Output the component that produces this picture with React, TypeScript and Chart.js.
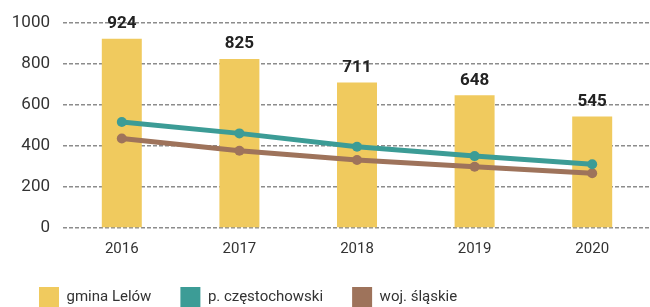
import React, { useEffect, useRef } from "react";
import { Chart, registerables } from "chart.js";

Chart.register(...registerables);

const years = ["2016", "2017", "2018", "2019", "2020"];
const gminaLelow = [924, 825, 711, 648, 545];
const powiatCzestochowski = [518, 462, 397, 351, 311];
const wojSlaskie = [437, 377, 332, 299, 267];
const yTicks = [0, 200, 400, 600, 800, 1000];

const YELLOW = "#F0CA5E";
const TEAL = "#3C9C96";
const BROWN = "#9E735B";

const barLabels = {
  id: "barLabels",
  afterDatasetsDraw(chart: any) {
    const ctx = chart.ctx;
    const meta = chart.getDatasetMeta(2);
    ctx.save();
    ctx.font = "bold 17px Roboto";
    ctx.fillStyle = "#222";
    ctx.textAlign = "center";
    ctx.textBaseline = "middle";
    meta.data.forEach((bar: any, i: number) => {
      ctx.fillText(String(gminaLelow[i]), bar.x, bar.y - 15);
    });
    ctx.restore();
  },
};

export default function App() {
  const ref = useRef<HTMLCanvasElement | null>(null);
  useEffect(() => {
    document.body.style.margin = "0";
    document.body.style.overflow = "hidden";
    const chart = new Chart(ref.current!, {
      type: "bar",
      data: {
        labels: years,
        datasets: [
          {
            type: "line",
            label: "p. częstochowski",
            data: powiatCzestochowski,
            borderColor: TEAL,
            backgroundColor: TEAL,
            borderWidth: 5,
            pointRadius: 5,
            pointBackgroundColor: TEAL,
            pointBorderWidth: 0,
            order: 1,
          } as any,
          {
            type: "line",
            label: "woj. śląskie",
            data: wojSlaskie,
            borderColor: BROWN,
            backgroundColor: BROWN,
            borderWidth: 5,
            pointRadius: 5,
            pointBackgroundColor: BROWN,
            pointBorderWidth: 0,
            order: 2,
          } as any,
          {
            type: "bar",
            label: "gmina Lelów",
            data: gminaLelow,
            backgroundColor: YELLOW,
            barPercentage: 0.34,
            categoryPercentage: 1,
            order: 3,
          },
        ],
      },
      options: {
        animation: false,
        responsive: false,
        layout: { padding: { left: 10, right: 2, top: 23, bottom: 0 } },
        scales: {
          x: {
            grid: { display: false, drawTicks: false },
            border: { display: false },
            ticks: { color: "#333", font: { family: "Roboto", size: 15 }, padding: 12 },
            afterFit: (axis: any) => {
              axis.height = 30;
            },
          },
          y: {
            min: 0,
            max: 1000,
            afterBuildTicks: (axis: any) => {
              axis.ticks = yTicks.map((v) => ({ value: v }));
            },
            afterFit: (axis: any) => {
              axis.width = 53;
            },
            grid: {
              color: "#8c8c8c",
              lineWidth: 1.6,
              drawTicks: false,
            },
            border: { display: false, dash: [4, 2] },
            ticks: {
              color: "#333",
              font: { family: "Roboto", size: 17 },
              padding: 13,
              callback: (v: any) => String(v),
            },
          },
        },
        plugins: {
          tooltip: { enabled: false },
          legend: {
            position: "bottom",
            align: "start",
            labels: {
              color: "#333",
              font: { family: "Roboto", size: 15 },
              boxWidth: 20,
              boxHeight: 20,
              padding: 29,
              sort: (a: any, b: any) => {
                const order = ["gmina Lelów", "p. częstochowski", "woj. śląskie"];
                return order.indexOf(a.text) - order.indexOf(b.text);
              },
              generateLabels: (c: any) => {
                const items = Chart.defaults.plugins.legend.labels.generateLabels(c);
                return items.map((it: any) => ({
                  ...it,
                  fillStyle: c.data.datasets[it.datasetIndex].backgroundColor,
                  strokeStyle: c.data.datasets[it.datasetIndex].backgroundColor,
                  lineWidth: 0,
                  lineDash: [],
                }));
              },
            },
          },
        },
      },
      plugins: [barLabels],
    });
    return () => chart.destroy();
  }, []);
  return (
    <div style={{ position: "absolute", left: 0, top: 0, width: 656, height: 317 }}>
      <canvas ref={ref} width={656} height={317} style={{ width: 656, height: 317 }} />
    </div>
  );
}
